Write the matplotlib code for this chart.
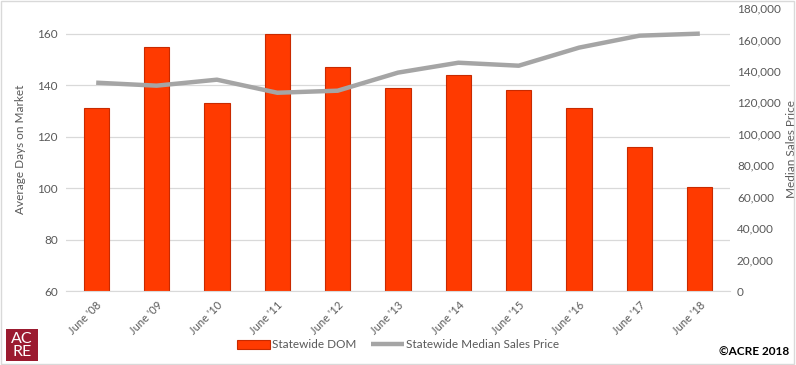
import matplotlib.pyplot as plt
from matplotlib.patches import Rectangle
import numpy as np

# data
years = ["June '08", "June '09", "June '10", "June '11", "June '12", "June '13",
         "June '14", "June '15", "June '16", "June '17", "June '18"]
dom = [131, 155, 133, 160, 147, 139, 144, 138, 131, 116, 100.5]
price = [132500, 130600, 134400, 126100, 127400, 138900, 145200, 143300,
         154800, 162400, 163700]

plt.rcParams['font.family'] = ['Lato', 'DejaVu Sans']
txt = '#595959'

fig = plt.figure(figsize=(7.96, 3.65), dpi=100)
ax = fig.add_axes([66 / 796, 74 / 365, 664 / 796, 283 / 365])
ax2 = ax.twinx()

x = np.arange(len(years))
bars = ax.bar(x, dom, width=0.42, color='#FF3A00', edgecolor='#C82A00',
              linewidth=0.8, label='Statewide DOM', zorder=2)
line, = ax2.plot(x, price, color='#A5A5A5', lw=3.2, solid_capstyle='butt',
                 label='Statewide Median Sales Price')

ax.set_xlim(-0.5, len(years) - 0.5)
ax.set_ylim(60, 170)
ax.set_yticks([60, 80, 100, 120, 140, 160])
ax2.set_ylim(0, 180000)
ax2.set_yticks(np.arange(0, 180001, 20000))
ax2.set_yticklabels(['{:,}'.format(v) for v in range(0, 180001, 20000)])

ax.grid(axis='y', color='#D9D9D9', lw=0.9, zorder=0)
ax.set_axisbelow(True)
for a in (ax, ax2):
    for s in a.spines.values():
        s.set_visible(False)
ax.spines['bottom'].set_visible(True)
ax.spines['bottom'].set_color('#D9D9D9')

ax.set_xticks(x)
ax.set_xticklabels(years, rotation=45, ha='right', rotation_mode='anchor')
ax.tick_params(axis='x', length=0, labelsize=8, colors=txt, pad=6)
ax.tick_params(axis='y', length=0, labelsize=8.5, colors=txt, pad=6)
ax2.tick_params(axis='y', length=0, labelsize=8.5, colors=txt, pad=5)

ax.set_ylabel('Average Days on Market', fontsize=8.5, color=txt, labelpad=8)
ax2.set_ylabel('Median Sales Price', fontsize=8.5, color=txt, labelpad=4)

fig.legend([bars, line], ['Statewide DOM', 'Statewide Median Sales Price'],
           loc='center', bbox_to_anchor=(0.5, 20 / 365), ncol=2, frameon=False,
           fontsize=8.5, labelcolor=txt, handlelength=2.8, columnspacing=1.2,
           handletextpad=0.2)

# logo and copyright
logo = fig.add_axes([6 / 796, 4 / 365, 32 / 796, 32 / 365])
logo.set_axis_off()
logo.add_patch(Rectangle((0, 0), 1, 1, color='#9B1B30', transform=logo.transAxes))
logo.text(0.5, 0.48, 'AC\nRE', color='white', ha='center', va='center',
          fontsize=11.5, linespacing=0.85, transform=logo.transAxes)
fig.text(0.992, 0.035, '©ACRE 2018', ha='right', va='center', fontsize=8.5,
         fontweight='bold', color='black')

fig.patches.append(Rectangle((0.001, 0.002), 0.997, 0.995, transform=fig.transFigure,
                             fill=False, edgecolor='#D9D9D9', lw=1))

fig.savefig('out.png', dpi=100)
